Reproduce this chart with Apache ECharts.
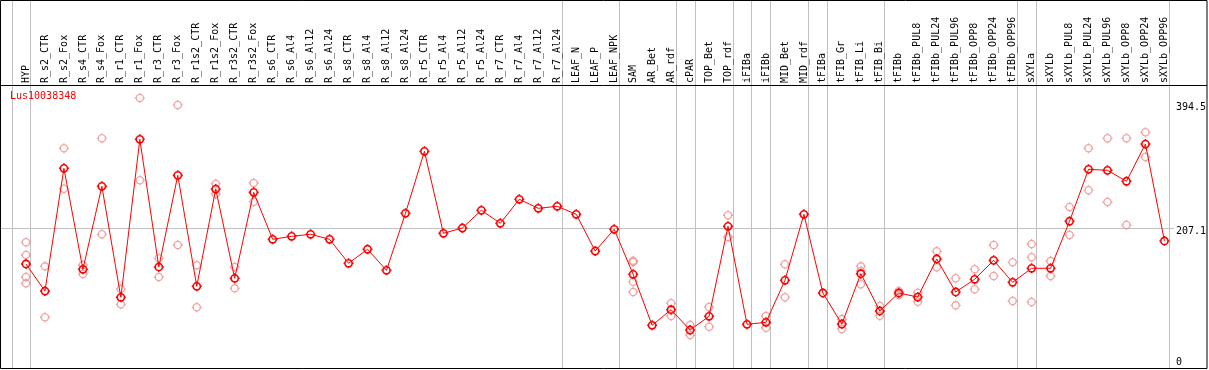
<!DOCTYPE html>
<html><head><meta charset="utf-8">
<script src="https://cdn.jsdelivr.net/npm/echarts@6/dist/echarts.min.js"></script>
<style>html,body{margin:0;padding:0;background:#fff}#c{width:1209px;height:370px}</style>
</head><body><div id="c"></div>
<script>
const chartTitle = 'Lus10038348';
const categories = ['HYP','R_s2_CTR','R_s2_Fox','R_s4_CTR','R_s4_Fox','R_r1_CTR','R_r1_Fox','R_r3_CTR','R_r3_Fox','R_r1s2_CTR','R_r1s2_Fox','R_r3s2_CTR','R_r3s2_Fox','R_s6_CTR','R_s6_Al4','R_s6_Al12','R_s6_Al24','R_s8_CTR','R_s8_Al4','R_s8_Al12','R_s8_Al24','R_r5_CTR','R_r5_Al4','R_r5_Al12','R_r5_Al24','R_r7_CTR','R_r7_Al4','R_r7_Al12','R_r7_Al24','LEAF_N','LEAF_P','LEAF_NPK','SAM','AR_Bet','AR_rdf','cPAR','TOP_Bet','TOP_rdf','iFIBa','iFIBb','MID_Bet','MID_rdf','tFIBa','tFIB_Gr','tFIB_Li','tFIB_Bi','tFIBb','tFIBb_PUL8','tFIBb_PUL24','tFIBb_PUL96','tFIBb_OPP8','tFIBb_OPP24','tFIBb_OPP96','sXYLa','sXYLb','sXYLb_PUL8','sXYLb_PUL24','sXYLb_PUL96','sXYLb_OPP8','sXYLb_OPP24','sXYLb_OPP96'];
const meanValues = [154.2,114.1,296.0,146.3,269.3,104.8,339.0,149.7,285.6,121.1,265.3,133.0,260.4,190.8,195.2,
  198.2,190.8,155.2,176.0,144.8,229.3,321.2,199.7,207.5,233.8,214.5,250.1,236.7,239.7,227.8,173.4,
  205.6,138.9,63.3,86.4,56.3,76.6,210.0,64.8,67.7,130.0,227.8,111.2,65.2,139.8,84.5,111.2,
  105.2,161.6,112.7,131.5,159.6,127.0,147.8,147.8,217.5,294.5,293.0,276.8,332.0,188.3];
const replicates = [
  [186.3,167.5,134.9,125.6],[150.7,75.2],[325.7,265.8],[152.7,139.3],[340.5,198.2],[117.1,94.4],[400.2,278.2],
  [162.6,134.9],[389.9,182.3],[152.2,90.0],[273.2,257.9],[149.7,118.1],[274.2,246.5],
  [],[],[],[],[],[],[],[],[],[],[],[],[],[],[],[],[],[],[],
  [159.1,157.1,127.9,112.7],[],[95.9,77.1],[63.7,48.9],[90.4,61.2],[226.4,194.2],[],[77.1,59.7],[153.7,104.8],
  [],[],[72.5,57.9],[150.7,143.8,124.1],[91.9,77.5],[114.1,108.2],
  [111.6,98.3],[173.0,149.3],[133.0,92.9],[146.3,116.7],[182.3,136.4],[156.7,99.3],
  [183.8,164.1,97.8],[158.6,136.4],[238.7,197.2],[325.7,263.4],[340.5,246.1],[340.5,212.0],[349.4,312.8],[]
];
const yTickValues = [0, 207.1, 394.5];
const refLineValue = 207.1;
const separatorAfter = [-1, 0, 28, 31, 34, 35, 37, 38, 39, 41, 42, 45, 52, 53, 60];

const repData = [];
replicates.forEach((arr, i) => arr.forEach(v => repData.push([i, v])));

const FONT = 'DejaVu Sans Mono';
const sym = 'path://M0,-3.6A3.6,3.6,0,1,1,0,3.6A3.6,3.6,0,1,1,0,-3.6Z M0,-5L0,-3.6 M0,3.6L0,5 M-5,0L-3.6,0 M3.6,0L5,0';

const chart = echarts.init(document.getElementById('c'), null, {renderer: 'canvas'});
chart.setOption({
  animation: false,
  backgroundColor: '#fff',
  title: {text: chartTitle, left: 10, top: 91, padding: 0,
    textStyle: {fontFamily: FONT, fontSize: 10, fontWeight: 'normal', color: '#ff0000'}},
  grid: {left: 16.5, right: 33.5, top: 85, bottom: 2, containLabel: false},
  xAxis: {type: 'category', data: categories, position: 'top', boundaryGap: true,
    axisLine: {show: false}, axisTick: {show: false}, splitLine: {show: false},
    axisLabel: {interval: 0, rotate: 90, margin: 2, fontFamily: FONT, fontSize: 10, color: '#000'}},
  yAxis: {type: 'value', position: 'right', min: 0, max: 419.5,
    axisLine: {show: false}, axisTick: {show: false}, splitLine: {show: false},
    axisLabel: {customValues: yTickValues, margin: 2, fontFamily: FONT, fontSize: 10, color: '#000',
      verticalAlign: 'middle', align: 'left',
      formatter: v => v === 0 ? '{b|0}' : (v === refLineValue ? '{m|' + v + '}' : '{t|' + v + '}'),
      rich: {
        b: {fontFamily: FONT, fontSize: 10, color: '#000', padding: [0, 0, 12, 0]},
        m: {fontFamily: FONT, fontSize: 10, color: '#000', padding: [7, 0, 0, 0]},
        t: {fontFamily: FONT, fontSize: 10, color: '#000', padding: [12, 0, 0, 0]}
      }}},
  series: [
    {type: 'scatter', data: repData, symbol: sym, symbolSize: 10, z: 1, silent: true,
      itemStyle: {color: 'rgba(0,0,0,0)', borderColor: '#ec8c8c', borderWidth: 1.3}},
    {type: 'line', data: meanValues, symbol: sym, symbolSize: 10, showAllSymbol: true, z: 3, silent: true,
      lineStyle: {color: '#ff0000', width: 1},
      itemStyle: {color: 'rgba(0,0,0,0)', borderColor: '#ff0000', borderWidth: 1.6}}
  ]
});

const xPix = i => chart.convertToPixel({xAxisIndex: 0}, i);
const step = xPix(1) - xPix(0);
const xAt = i => (i < 0 ? xPix(0) + i * step : xPix(i));
const yRef = Math.round(chart.convertToPixel({yAxisIndex: 0}, refLineValue)) + 0.5;
const gridRight = xPix(categories.length - 1) + step / 2;
const W = 1207, H = 368.5;
const els = [];
separatorAfter.forEach(i => {
  const x = Math.round(xAt(i) + 4.5) + 0.5;
  els.push({type: 'line', z: 0, silent: true, shape: {x1: x, y1: 0, x2: x, y2: H},
    style: {stroke: '#c0c0c0', lineWidth: 1}});
});
els.push({type: 'line', z: 0, silent: true, shape: {x1: 1, y1: yRef, x2: gridRight, y2: yRef},
  style: {stroke: '#c0c0c0', lineWidth: 1}});
els.push({type: 'line', z: 10, silent: true, shape: {x1: 0, y1: 85.5, x2: W, y2: 85.5},
  style: {stroke: '#000', lineWidth: 1}});
els.push({type: 'rect', z: 10, silent: true, shape: {x: 0.5, y: 0.5, width: W - 0.5, height: H - 0.5},
  style: {stroke: '#000', fill: 'none', lineWidth: 1}});
chart.setOption({graphic: {elements: els}});
</script>
</body></html>
